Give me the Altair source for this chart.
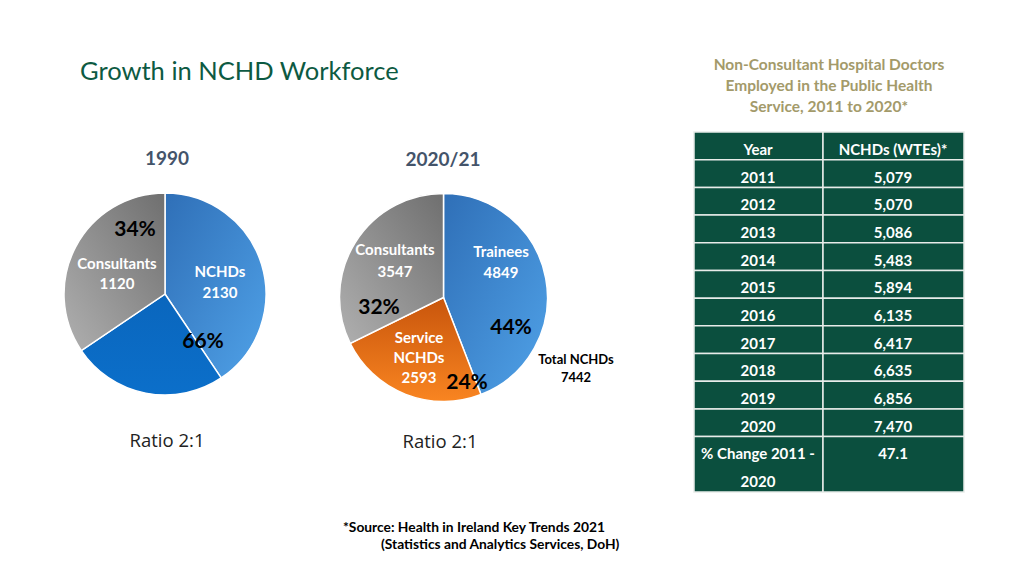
import math
import altair as alt
import pandas as pd

# ---------------- data ----------------
pie1990_parts = ["NCHDs (share A)", "NCHDs (share B)", "Consultants"]
pie1990_values = [1320, 810, 1120]

pie2020_parts = ["Trainees", "Service NCHDs", "Consultants"]
pie2020_values = [4849, 2593, 3547]

total_nchds_2020 = 7442

table_years = ["2011", "2012", "2013", "2014", "2015", "2016", "2017", "2018", "2019", "2020"]
table_nchds = ["5,079", "5,070", "5,086", "5,483", "5,894", "6,135", "6,417", "6,635", "6,856", "7,470"]
pct_change = "47.1"

OFF = 8  # page margin
FONT = "Lato"
W, H = 1008, 560

base = pd.DataFrame({"a": [0]})


def grad(c0, c1, x1, y1, x2, y2):
    return alt.LinearGradient(
        gradient="linear",
        stops=[alt.GradientStop(color=c0, offset=0), alt.GradientStop(color=c1, offset=1)],
        x1=x1, y1=y1, x2=x2, y2=y2)


LIGHT_BLUE = grad("#2f6fb7", "#50a2e8", 0, 0, 1, 1)
DARK_BLUE = grad("#0a66bd", "#0b6fca", 0, 0, 0, 1)
GRAY = grad("#6f6f6f", "#b0b0b0", 1, 0, 0, 1)
ORANGE = grad("#c8550c", "#f98521", 0, 0, 0, 1)

pie1990_fills = [LIGHT_BLUE, DARK_BLUE, GRAY]
pie2020_fills = [LIGHT_BLUE, ORANGE, GRAY]


def txt(x, y, s, size=14, color="black", weight="bold", align="center",
        baseline="alphabetic", font=FONT):
    return alt.Chart(base).mark_text(
        text=s, fontSize=size, color=color, fontWeight=weight, align=align,
        baseline=baseline, font=font
    ).encode(x=alt.value(x - OFF), y=alt.value(y - OFF))


def pie(parts, values, fills, cx, cy, r):
    df = pd.DataFrame({"part": parts, "v": values, "i": list(range(len(parts)))})
    stacked = alt.Chart(df).transform_stack(
        stack="v", groupby=[], as_=["s0", "s1"], offset="normalize",
        sort=[alt.SortField("i", order="ascending")])
    out = []
    for p, f in zip(parts, fills):
        out.append(stacked.transform_filter(alt.datum.part == p).mark_arc(
            radius=r, stroke="white", strokeWidth=1.5, color=f).encode(
            theta=alt.Theta("s0:Q", scale=alt.Scale(domain=[0, 1], range=[0, 2 * math.pi]),
                            stack=None),
            theta2="s1:Q",
            x=alt.value(cx - OFF),
            y=alt.value(cy - OFF),
        ))
    return out


layers = []

# titles
layers.append(txt(80, 80, "Growth in NCHD Workforce", size=25.5, color="#0d5a42",
                  weight="normal", align="left"))
for k, line in enumerate(["Non-Consultant Hospital Doctors",
                          "Employed in the Public Health",
                          "Service, 2011 to 2020*"]):
    layers.append(txt(829, 70 + 21 * k, line, size=15.5, color="#a39a6a"))

layers.append(txt(167, 165, "1990", size=19, color="#44546a"))
layers.append(txt(443, 166, "2020/21", size=19, color="#44546a"))

# pies
layers += pie(pie1990_parts, pie1990_values, pie1990_fills, 165, 294, 101)
layers += pie(pie2020_parts, pie2020_values, pie2020_fills, 443.5, 297.5, 104)

# 1990 labels
t1990 = sum(pie1990_values)
nchd1990 = pie1990_values[0] + pie1990_values[1]
cons1990 = pie1990_values[2]
layers.append(txt(135, 236, f"{round(cons1990 / t1990 * 100)}%", size=21))
layers.append(txt(117, 269, "Consultants", size=15, color="white"))
layers.append(txt(117, 289, f"{cons1990}", size=15, color="white"))
layers.append(txt(220, 277, "NCHDs", size=15, color="white"))
layers.append(txt(220, 298, f"{nchd1990}", size=15, color="white"))
layers.append(txt(203, 348, f"{round(nchd1990 / t1990 * 100)}%", size=21))

# 2020 labels
t2020 = sum(pie2020_values)
trn, srv, con = pie2020_values
layers.append(txt(395, 255, "Consultants", size=15, color="white"))
layers.append(txt(395, 277, f"{con}", size=15, color="white"))
layers.append(txt(379, 314, f"{round(con / t2020 * 100)}%", size=21))
layers.append(txt(501, 257, "Trainees", size=15, color="white"))
layers.append(txt(501, 278, f"{trn}", size=15, color="white"))
layers.append(txt(511, 334, f"{round(trn / t2020 * 100)}%", size=21))
layers.append(txt(419, 343, "Service", size=15, color="white"))
layers.append(txt(419, 363, "NCHDs", size=15, color="white"))
layers.append(txt(419, 383, f"{srv}", size=15, color="white"))
layers.append(txt(467, 389, f"{round(srv / t2020 * 100)}%", size=21))
layers.append(txt(576, 364, "Total NCHDs", size=13))
layers.append(txt(576, 382, f"{total_nchds_2020}", size=13))

layers.append(txt(167, 447, "Ratio 2:1", size=18.5, color="#222222", weight="normal",
                  font="Open Sans"))
layers.append(txt(440, 448, "Ratio 2:1", size=18.5, color="#222222", weight="normal",
                  font="Open Sans"))

layers.append(txt(343, 532, "*Source: Health in Ireland Key Trends 2021", size=13.8,
                  align="left"))
layers.append(txt(381, 549, "(Statistics and Analytics Services, DoH)", size=13.8,
                  align="left"))

# ---------------- table ----------------
n = len(table_years)
cells = pd.DataFrame({
    "r0": [0] + [i + 1 for i in range(n)] + [n + 1],
    "r1": [1] + [i + 2 for i in range(n)] + [n + 3],
})
lines = pd.DataFrame({
    "row": [0] + [i + 1 for i in range(n)] + [n + 1, n + 2],
    "left": ["Year"] + table_years + ["% Change 2011 -", "2020"],
    "right": ["NCHDs (WTEs)*"] + table_nchds + [pct_change, ""],
})
lines["rm"] = lines["row"] + 0.5
ysc = alt.Scale(domain=[0, n + 3], range=[132 - OFF, 492 - OFF])

for x0, x1 in [(694, 823), (823, 964)]:
    layers.append(alt.Chart(cells).mark_rect(
        color="#0b4f3e", stroke="#e8ece9", strokeWidth=1.5).encode(
        y=alt.Y("r0:Q", scale=ysc, axis=None),
        y2="r1:Q",
        x=alt.value(x0 - OFF), x2=alt.value(x1 - OFF)))

for col, xc in [("left", 758), ("right", 893)]:
    layers.append(alt.Chart(lines).mark_text(
        font=FONT, fontSize=15, fontWeight="bold", color="white",
        baseline="middle", dy=4).encode(
        y=alt.Y("rm:Q", scale=ysc, axis=None),
        x=alt.value(xc - OFF),
        text=f"{col}:N"))

chart = alt.layer(*layers).properties(
    width=W, height=H, padding=0,
    autosize=alt.AutoSizeParams(type="fit", contains="padding"),
    background="white",
).configure_view(stroke=None)

chart.save("out.html", embed_options={"renderer": "svg", "actions": False})
